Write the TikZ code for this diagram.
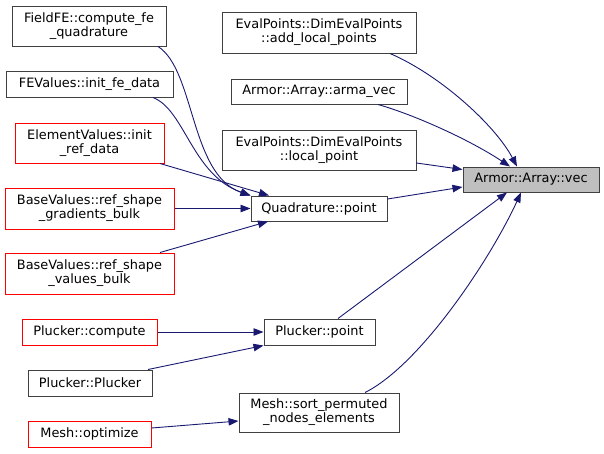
\documentclass[tikz,border=0pt]{standalone}
\usepackage{fontspec}
\setmainfont{DejaVu Sans}
\usetikzlibrary{arrows.meta}
\definecolor{edgeblue}{HTML}{191970}
\definecolor{boxgray}{HTML}{404040}
\definecolor{fillgray}{HTML}{BFBFBF}
\tikzset{
  box/.style={draw=boxgray, line width=1pt, fill=white, inner sep=0pt, align=center, font=\fontsize{12.9}{14.2}\selectfont},
  redbox/.style={box, draw=red},
  conn/.style={draw=edgeblue, line width=0.9pt, -{Triangle[length=10pt,width=7.5pt]}},
}
\begin{document}
\begin{tikzpicture}[x=1pt,y=-1pt]
\useasboundingbox (0,0) rectangle (604,453);
% left column
\node[box, minimum width=154pt, minimum height=40pt] (fieldfe) at (89,26) {FieldFE::compute\_fe\\\_quadrature};
\node[box, minimum width=167pt, minimum height=26pt] (fevalues) at (89.5,84) {FEValues::init\_fe\_data};
\node[redbox, minimum width=149pt, minimum height=40pt] (elemval) at (89.5,143) {ElementValues::init\\\_ref\_data};
\node[redbox, minimum width=169pt, minimum height=41pt] (gradbulk) at (89.5,208.5) {BaseValues::ref\_shape\\\_gradients\_bulk};
\node[redbox, minimum width=169pt, minimum height=41pt] (valbulk) at (89.5,273.5) {BaseValues::ref\_shape\\\_values\_bulk};
\node[redbox, minimum width=135pt, minimum height=26pt] (plcompute) at (89.5,332) {Plucker::compute};
\node[box, minimum width=124pt, minimum height=26pt] (plplucker) at (90,383) {Plucker::Plucker};
\node[redbox, minimum width=123pt, minimum height=26pt] (meshopt) at (89.5,434) {Mesh::optimize};
% middle column
\node[box, minimum width=194pt, minimum height=41pt] (addlocal) at (319,32.5) {EvalPoints::DimEvalPoints\\::add\_local\_points};
\node[box, minimum width=176pt, minimum height=25pt] (armavec) at (319,91.5) {Armor::Array::arma\_vec};
\node[box, minimum width=194pt, minimum height=40pt] (localpoint) at (319,150) {EvalPoints::DimEvalPoints\\::local\_point};
\node[box, minimum width=136pt, minimum height=25pt] (quadpoint) at (319,208.5) {Quadrature::point};
\node[box, minimum width=111pt, minimum height=26pt] (plpoint) at (319.5,332) {Plucker::point};
\node[box, minimum width=160pt, minimum height=39pt] (meshsort) at (319,412.5) {Mesh::sort\_permuted\\\_nodes\_elements};
% right
\node[box, fill=fillgray, minimum width=136pt, minimum height=25pt] (vec) at (531,179.5) {Armor::Array::vec};
% edges into Quadrature::point
\draw[conn] ([xshift=69pt]fieldfe.south) .. controls (195,70) and (190,175) .. (quadpoint.north west);
\draw[conn] ([xshift=63.5pt]fevalues.south) .. controls (185,110) and (192,175) .. (quadpoint.north west);
\draw[conn] ([xshift=70.5pt]elemval.south) -- ([xshift=-50pt]quadpoint.north);
\draw[conn] (gradbulk.east) -- (quadpoint.west);
\draw[conn] ([xshift=70.5pt]valbulk.north) -- ([xshift=-51pt]quadpoint.south);
% edges into vec
\draw[conn] ([xshift=71pt]addlocal.south) .. controls (440,75) and (495,125) .. ([xshift=-14pt]vec.north);
\draw[conn] ([xshift=59pt]armavec.south) .. controls (415,115) and (470,140) .. ([xshift=-21pt]vec.north);
\draw[conn] ([yshift=-13pt]localpoint.east) -- ([yshift=10pt]vec.west);
\draw[conn] ([yshift=9.5pt]quadpoint.east) -- ([yshift=-7.5pt]vec.west);
\draw[conn] ([xshift=18.5pt]plpoint.north) -- ([xshift=-24pt]vec.south);
\draw[conn] ([xshift=46pt]meshsort.north) .. controls (420,365) and (490,260) .. ([xshift=-10pt]vec.south);
% edges into Plucker::point and Mesh::sort
\draw[conn] (plcompute.east) -- (plpoint.west);
\draw[conn] ([xshift=58pt]plplucker.north) -- (plpoint.south west);
\draw[conn] ([yshift=6pt]meshopt.east) -- ([yshift=-8.5pt]meshsort.west);
\end{tikzpicture}
\end{document}
